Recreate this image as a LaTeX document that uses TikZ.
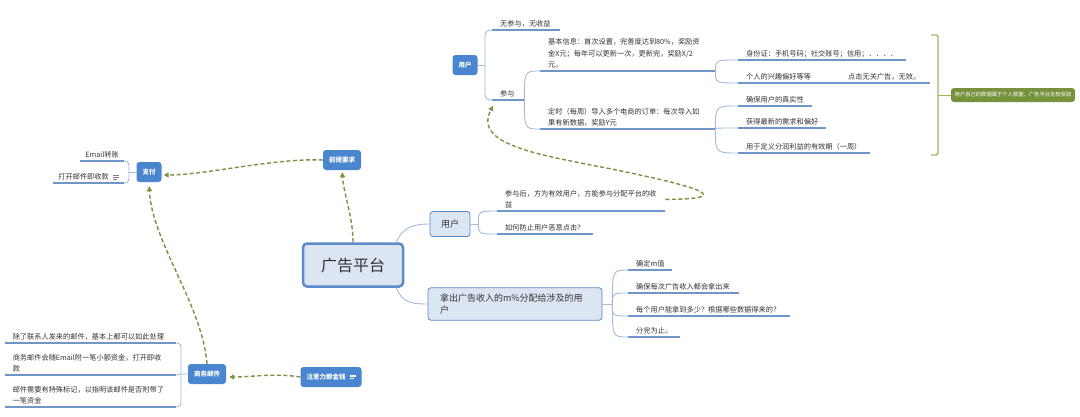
\documentclass[tikz,border=0pt]{standalone}
\usepackage{fontspec}
\setmainfont{Noto Sans CJK SC}
\usetikzlibrary{arrows.meta}

\definecolor{topicc}{HTML}{4A86CF}
\definecolor{mainfill}{HTML}{DCE6F2}
\definecolor{mainedge}{HTML}{5B8BC9}
\definecolor{branchc}{HTML}{A3BBD9}
\definecolor{ulinec}{HTML}{6E96CB}
\definecolor{relc}{HTML}{7D9040}
\definecolor{bracec}{HTML}{9BBB59}
\definecolor{notec}{HTML}{76923C}
\definecolor{txt}{HTML}{333333}

\newcommand{\leaffont}{\fontsize{7.2}{11.5}\selectfont}
\newcommand{\topicfont}{\fontsize{6.5}{8}\selectfont\bfseries}
\newcommand{\noteicon}[1]{\hspace{4pt}{\color{#1}\raisebox{0.6pt}{\vbox{\hrule width 6pt height 0.6pt\vskip 1.3pt\hrule width 6pt height 0.6pt\vskip 1.3pt\hrule width 4pt height 0.6pt}}}}

\begin{document}
\begin{tikzpicture}[x=1pt,y=-1pt]
    \tikzstyle{root}=[draw=mainedge,line width=2.5pt,fill=mainfill,rounded corners=4pt,minimum width=100pt,minimum height=43pt,font=\fontsize{16}{18}\selectfont,text=txt]
    \tikzstyle{sub}=[draw=mainedge,line width=0.8pt,fill=mainfill,rounded corners=3pt,minimum height=25pt,inner xsep=8pt,font=\fontsize{9}{12}\selectfont,text=txt,align=left]
    \tikzstyle{topic}=[fill=topicc,text=white,font=\topicfont,rounded corners=3pt,minimum height=20pt,inner xsep=6pt]
    \tikzstyle{leaf}=[anchor=south west,align=left,inner xsep=8pt,inner ysep=2.5pt,font=\leaffont,text=txt]
    \tikzstyle{lleaf}=[anchor=south east,inner xsep=5pt,inner ysep=2.5pt,font=\leaffont,text=txt]
    \tikzstyle{note}=[fill=notec,text=white,font=\fontsize{5.3}{6}\selectfont,rounded corners=3pt,minimum height=14pt,minimum width=124pt]
    \tikzstyle{branch}=[draw=branchc,line width=0.9pt]
    \tikzstyle{uline}=[draw=ulinec,line width=1.3pt]
    \tikzstyle{rel}=[draw=relc,line width=1.4pt,dash pattern=on 4pt off 2.5pt,-{Triangle[length=5pt,width=5pt]},shorten >=2pt]

    \fill[white] (0,0) rectangle (1080,416);
    \useasboundingbox (0,0) rectangle (1080,416);

    % centre and the two right branches
    \node[root] (ctr) at (353,265) {广告平台};
    \node[sub,minimum width=40pt] (uR) at (450,224) {用户};
    \node[sub,text width=150pt,inner xsep=12pt,inner ysep=6pt] (mR) at (515,304) {拿出广告收入的m\%分配给涉及的用\\户};
    \draw[branch] ([xshift=-8pt]ctr.north east) .. controls +(6,-14) and +(-18,0) .. (uR.west);
    \draw[branch] ([xshift=-8pt]ctr.south east) .. controls +(6,14) and +(-18,0) .. (mR.west);

    \coordinate (uRb) at ([xshift=8pt]uR.east);
    \node[leaf,text width=152pt] (cx) at (497,211) {参与后，方为有效用户，方能参与分配平台的收\\益};
    \node[leaf,text width=80pt] (fz) at (497,234) {如何防止用户恶意点击？};
    \draw[branch] (uR.east) -- (uRb);
    \foreach \c in {cx,fz}
      \draw[branch] (uRb) .. controls (uRb |- \c.south west) .. (\c.south west);

    \coordinate (mRb) at ([xshift=10pt]mR.east);
    \node[leaf,text width=28pt] (qm) at (628,270) {确定m值};
    \node[leaf,text width=95pt] (qb) at (628,293) {确保每次广告收入都会拿出来};
    \node[leaf,text width=146pt] (mg) at (628,316) {每个用户能拿到多少？根据哪些数据得来的？};
    \node[leaf,text width=36pt] (fw) at (628,337) {分完为止。};
    \draw[branch] (mR.east) -- (mRb);
    \foreach \c in {qm,qb,mg,fw}
      \draw[branch] (mRb) .. controls (mRb |- \c.south west) .. (\c.south west);

    % top: users
    \node[topic] (uT) at (465,65) {用户};
    \coordinate (uTb) at (485,65);
    \node[leaf,text width=52pt] (wu) at (492,30) {无参与，无收益};
    \node[leaf,text width=16pt] (cy) at (492,100) {参与};
    \draw[branch] (uT.east) -- (uTb);
    \draw[branch,rounded corners=5pt] (wu.south west) -| (uTb) |- (cy.south west);

    \node[leaf,text width=159pt] (jb) at (540,71) {基本信息：首次设置，完善度达到80\%，奖励资\\金X元；每年可以更新一次，更新完，奖励X/2\\元。};
    \node[leaf,text width=159pt] (ds) at (540,129) {定时（每周）导入多个电商的订单：每次导入如\\果有新数据，奖励Y元};
    \foreach \c in {jb,ds}
      \draw[branch] (cy.south east) .. controls (cy.south east |- \c.south west) .. (\c.south west);

    \node[leaf,text width=152pt] (sf) at (738,60) {身份证：手机号码；社交账号；信用；．．．．};
    \node[leaf,text width=86pt] (gr) at (738,83) {个人的兴趣偏好等等};
    \node[leaf,text width=74pt] (dj) at (840,83) {点击无关广告，无效。};
    \foreach \c in {sf,gr}
      \draw[branch] (jb.south east) .. controls (jb.south east |- \c.south west) .. (\c.south west);

    \node[leaf,text width=58pt] (zs) at (738,106) {确保用户的真实性};
    \node[leaf,text width=72pt] (hd) at (738,128) {获得最新的需求和偏好};
    \node[leaf,text width=116pt] (yd) at (738,153) {用于定义分润利益的有效期（一周）};
    \foreach \c in {zs,hd,yd}
      \draw[branch] (ds.south east) .. controls (ds.south east |- \c.south west) .. (\c.south west);

    \draw[bracec,line width=1.3pt,rounded corners=2pt] (931,35) -- (938,35) -- (938,155) -- (931,155);
    \node[note] (nt) at (1013,95) {用户自己的数据属于个人数据，广告平台无权获取};
    \draw[bracec,line width=1pt] (938,95) -- (nt.west);

    % left: payment
    \node[topic] (zf) at (149,172) {支付};
    \coordinate (zfb) at (129,172);
    \node[lleaf] (em) at (124,161) {Email转账};
    \node[lleaf] (dk) at (124,183) {打开邮件即收款\noteicon{gray}};
    \draw[branch] (zf.west) -- (zfb);
    \draw[branch,rounded corners=4pt] (em.south east) -| (zfb) |- (dk.south east);

    \node[topic] (qy) at (342,160) {前提要求};

    % bottom: mail
    \node[topic] (ck) at (207,374) {商务邮件};
    \coordinate (ckb) at (181,374);
    \node[leaf,anchor=south east,text width=155pt] (cl) at (176,343) {除了联系人发来的邮件，基本上都可以如此处理};
    \node[leaf,anchor=south east,text width=155pt] (sw) at (176,375) {商务邮件会随Email附一笔小额资金，打开即收\\款};
    \node[leaf,anchor=south east,text width=155pt] (yj) at (176,407) {邮件需要有特殊标记，以指明该邮件是否附带了\\一笔资金};
    \draw[branch,rounded corners=4pt] (cl.south east) -| (ckb) |- (yj.south east);
    \draw[branch] (sw.south east) -- (ckb) -- (ck.west);

    \node[topic] (zy) at (331,377) {注意力即金钱\noteicon{white}};

    \foreach \n in {cx,fz,qm,qb,mg,fw,wu,cy,jb,ds,sf,gr,dj,zs,hd,yd,em,dk,cl,sw,yj}
      \draw[uline] (\n.south west) -- (\n.south east);

    % relations
    \draw[rel] (qy.west) .. controls +(-50,-2) and +(45,0) .. ([yshift=-3pt]zf.east);
    \draw[rel] (ctr.north) .. controls +(0,-25) and +(2,25) .. (qy.south);
    \draw[rel,shorten >=4pt] (ck.north) .. controls +(-5,-60) and +(3,60) .. (zf.south);
    \draw[rel,shorten >=3pt] (zy.west) .. controls +(-25,-4) and +(25,0) .. ([yshift=-3pt]ck.east);
    \draw[rel] (cx.east) .. controls +(62,0) and +(70,15) .. (640,175) .. controls (560,157) and (470,150) .. ([xshift=2pt,yshift=-4pt]cy.south west);
\end{tikzpicture}
\end{document}
